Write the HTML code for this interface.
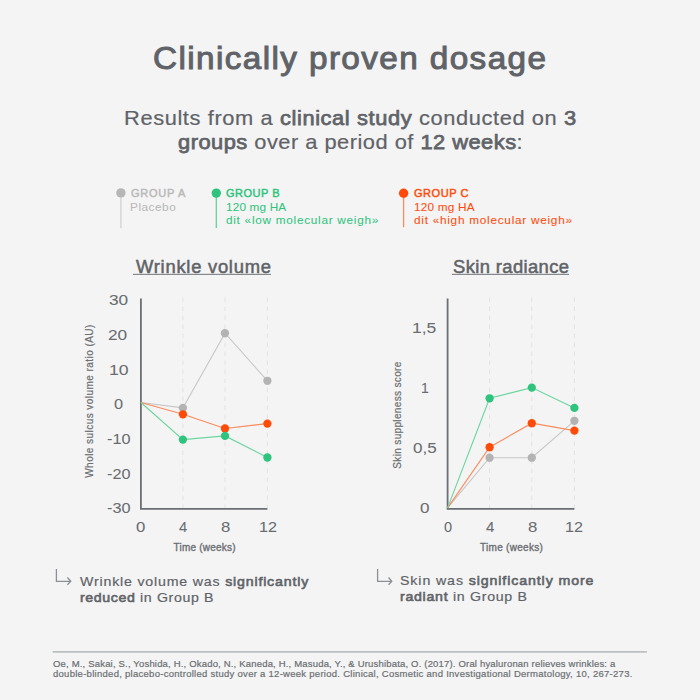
<!DOCTYPE html>
<html><head><meta charset="utf-8">
<style>
html,body{margin:0;padding:0;}
body{width:700px;height:700px;background:#f4f4f4;position:relative;overflow:hidden;font-family:"Liberation Sans",sans-serif;color:#5f6368;}
.t{position:absolute;white-space:nowrap;line-height:1;-webkit-text-stroke:0.2px currentColor;}
b{font-weight:normal;-webkit-text-stroke:0.8px currentColor;}
#sub1 b,#sub2 b{-webkit-text-stroke:0.75px currentColor;}
#n1a b,#n1b b,#n2a b,#n2b b{-webkit-text-stroke:0.6px currentColor;}
svg{position:absolute;left:0;top:0;}
</style></head><body>
<svg width="700" height="700">
  <!-- legend pins -->
  <rect x="120.25" y="193" width="1.3" height="35.2" fill="#d2d2d2"/>
  <circle cx="120.9" cy="192.9" r="4.7" fill="#b6b6b6"/>
  <rect x="215.65" y="193" width="1.3" height="35" fill="#62d39b"/>
  <circle cx="216.3" cy="193.1" r="4.7" fill="#2fc47e"/>
  <rect x="402.95" y="193" width="1.3" height="34.2" fill="#ff8a5c"/>
  <circle cx="403.6" cy="193.2" r="4.7" fill="#ff4b0a"/>

  <!-- left chart grid -->
  <g stroke="#e2e2e2" stroke-width="1" stroke-dasharray="4.5,4.5" fill="none">
    <line x1="182.9" y1="297.5" x2="182.9" y2="508"/>
    <line x1="225" y1="297.5" x2="225" y2="508"/>
    <line x1="267.4" y1="297.5" x2="267.4" y2="508"/>
    <line x1="489.6" y1="297.5" x2="489.6" y2="508"/>
    <line x1="531.8" y1="297.5" x2="531.8" y2="508"/>
    <line x1="574.4" y1="297.5" x2="574.4" y2="508"/>
  </g>
  <polyline points="140.9,298.4 140.9,508.8 267.4,508.8" fill="none" stroke="#6b6e72" stroke-width="1.8"/>
  <polyline points="447.6,298.4 447.6,508.8 574.4,508.8" fill="none" stroke="#6b6e72" stroke-width="1.8"/>

  <g fill="#6b6f73" stroke="#6b6f73" stroke-width="0.2" font-size="10" font-family="Liberation Sans">
    <text id="yl1" transform="translate(93,401) rotate(-90)" text-anchor="middle" letter-spacing="0.45">Whole sulcus volume ratio (AU)</text>
    <text id="yl2" transform="translate(401,415) rotate(-90)" text-anchor="middle" letter-spacing="0.35">Skin suppleness score</text>
  </g>

  <polyline points="140.9,402.5 182.9,407.9 225,333.2 267.4,380.8" fill="none" stroke="#c6c6c6" stroke-width="1.1"/>
  <polyline points="140.9,402.5 182.9,414.3 225,428.5 267.4,423.6" fill="none" stroke="#fb8a5c" stroke-width="1.1"/>
  <polyline points="140.9,402.5 182.9,439.6 225,435.9 267.4,457.5" fill="none" stroke="#6bd5a0" stroke-width="1.1"/>
  <g fill="#b3b3b3"><circle cx="182.9" cy="407.9" r="4.15"/><circle cx="224.93" cy="333.2" r="4.15"/><circle cx="267.4" cy="380.8" r="4.15"/></g>
  <g fill="#ff4b0a"><circle cx="182.9" cy="414.3" r="4.15"/><circle cx="225" cy="428.5" r="4.15"/><circle cx="267.4" cy="423.6" r="4.15"/></g>
  <g fill="#2fc47e"><circle cx="182.9" cy="439.6" r="4.15"/><circle cx="225" cy="435.9" r="4.15"/><circle cx="267.4" cy="457.5" r="4.15"/></g>

  <polyline points="447.6,507.9 489.6,457.7 531.8,457.7 574.4,420.8" fill="none" stroke="#c6c6c6" stroke-width="1.1"/>
  <polyline points="447.6,507.9 489.6,447.2 531.8,423.2 574.4,430.6" fill="none" stroke="#fb8a5c" stroke-width="1.1"/>
  <polyline points="447.6,507.9 489.6,398.3 531.8,387.6 574.4,407.9" fill="none" stroke="#6bd5a0" stroke-width="1.1"/>
  <g fill="#b3b3b3"><circle cx="489.6" cy="457.7" r="4.15"/><circle cx="531.8" cy="457.7" r="4.15"/><circle cx="574.4" cy="420.8" r="4.15"/></g>
  <g fill="#ff4b0a"><circle cx="489.6" cy="447.2" r="4.15"/><circle cx="531.8" cy="423.2" r="4.15"/><circle cx="574.4" cy="430.6" r="4.15"/></g>
  <g fill="#2fc47e"><circle cx="489.6" cy="398.3" r="4.15"/><circle cx="531.8" cy="387.6" r="4.15"/><circle cx="574.4" cy="407.9" r="4.15"/></g>

  <g fill="none" stroke="#8c8f93" stroke-width="1.3" stroke-linecap="butt" stroke-linejoin="miter">
    <path d="M56.4,569 V581.3 H70.6 M67.4,577.5 L70.8,581.3 L67.4,584.8"/>
    <path d="M377.6,569 V581.3 H391.6 M388.5,577.5 L391.8,581.3 L388.5,584.8"/>
  </g>
  <rect x="133" y="273.8" width="137.9" height="1.2" fill="#85898d"/>
  <rect x="452" y="273.8" width="117.1" height="1.2" fill="#85898d"/>
  <line x1="52.7" y1="651.9" x2="646.9" y2="651.9" stroke="#bdbfc1" stroke-width="1.7"/>
</svg>
<div class="t" id="title" style="left:153px;top:42.0px;font-size:32px;letter-spacing:1.348px;-webkit-text-stroke:1.0px currentColor;transform:scaleX(1.04);transform-origin:0 0;">Clinically proven dosage</div>
<div class="t" id="sub1" style="left:124px;top:106.51px;font-size:21px;letter-spacing:0.582px;transform:scaleX(1.04);transform-origin:0 0;">Results from a <b>clinical study</b> conducted on <b>3</b></div>
<div class="t" id="sub2" style="left:178px;top:130.71px;font-size:21px;letter-spacing:0.469px;transform:scaleX(1.04);transform-origin:0 0;"><b>groups</b> over a period of <b>12 weeks</b>:</div>
<div class="t" id="ga" style="left:131.0px;top:188.01px;font-size:11px;letter-spacing:0.733px;color:#b9b9b9;-webkit-text-stroke:0.45px currentColor;transform:scaleX(1.0);transform-origin:0 0;">GROUP A</div>
<div class="t" id="gap" style="left:130.0px;top:201.81px;font-size:11px;letter-spacing:0.5px;color:#b9b9b9;-webkit-text-stroke:0.05px currentColor;transform:scaleX(1.07);transform-origin:0 0;">Placebo</div>
<div class="t" id="gb" style="left:226px;top:187.81px;font-size:11px;letter-spacing:0.5px;color:#2fc47e;-webkit-text-stroke:0.45px currentColor;transform:scaleX(1.0);transform-origin:0 0;">GROUP B</div>
<div class="t" id="gb1" style="left:226px;top:201.91px;font-size:11px;letter-spacing:0.152px;color:#2fc47e;-webkit-text-stroke:0.05px currentColor;transform:scaleX(1.07);transform-origin:0 0;">120 mg HA</div>
<div class="t" id="gb2" style="left:226px;top:215.01px;font-size:11px;letter-spacing:0.682px;color:#2fc47e;-webkit-text-stroke:0.05px currentColor;transform:scaleX(1.07);transform-origin:0 0;">dit «low molecular weigh»</div>
<div class="t" id="gc" style="left:414.0px;top:187.81px;font-size:11px;letter-spacing:0.533px;color:#ff4b0a;-webkit-text-stroke:0.45px currentColor;transform:scaleX(1.0);transform-origin:0 0;">GROUP C</div>
<div class="t" id="gc1" style="left:414.0px;top:201.91px;font-size:11px;letter-spacing:0.2px;color:#ff4b0a;-webkit-text-stroke:0.05px currentColor;transform:scaleX(1.07);transform-origin:0 0;">120 mg HA</div>
<div class="t" id="gc2" style="left:414.0px;top:215.01px;font-size:11px;letter-spacing:0.696px;color:#ff4b0a;-webkit-text-stroke:0.05px currentColor;transform:scaleX(1.07);transform-origin:0 0;">dit «high molecular weigh»</div>
<div class="t" id="ct1" style="left:135.5px;top:258.6px;font-size:17.5px;letter-spacing:0.707px;-webkit-text-stroke:0.5px currentColor;transform:scaleX(1.05);transform-origin:0 0;">Wrinkle volume</div>
<div class="t" id="ct2" style="left:453.0px;top:258.6px;font-size:17.5px;letter-spacing:0.366px;-webkit-text-stroke:0.5px currentColor;transform:scaleX(1.05);transform-origin:0 0;">Skin radiance</div>
<div class="t" id="n1a" style="left:79.5px;top:575.4px;font-size:13.5px;letter-spacing:0.775px;transform:scaleX(1.05);transform-origin:0 0;">Wrinkle volume was <b>significantly</b></div>
<div class="t" id="n1b" style="left:79.5px;top:591.4px;font-size:13.5px;letter-spacing:0.588px;transform:scaleX(1.05);transform-origin:0 0;"><b>reduced</b> in Group B</div>
<div class="t" id="n2a" style="left:400.0px;top:574.0px;font-size:13.5px;letter-spacing:0.853px;transform:scaleX(1.05);transform-origin:0 0;">Skin was <b>significantly more</b></div>
<div class="t" id="n2b" style="left:400.0px;top:590.0px;font-size:13.5px;letter-spacing:0.671px;transform:scaleX(1.05);transform-origin:0 0;"><b>radiant</b> in Group B</div>
<div class="t" id="r1" style="left:53px;top:658.71px;font-size:9.5px;letter-spacing:0.181px;color:#6b6f73;">Oe, M., Sakai, S., Yoshida, H., Okado, N., Kaneda, H., Masuda, Y., &amp; Urushibata, O. (2017). Oral hyaluronan relieves wrinkles: a</div>
<div class="t" id="r2" style="left:53px;top:669.01px;font-size:9.5px;letter-spacing:0.276px;color:#6b6f73;">double-blinded, placebo-controlled study over a 12-week period. Clinical, Cosmetic and Investigational Dermatology, 10, 267-273.</div>
<div class="t" id="t30" style="left:109.0px;top:291.91px;font-size:15.5px;letter-spacing:0px;color:#686c70;-webkit-text-stroke:0.05px currentColor;transform:scaleX(1.1125);transform-origin:0 0;">30</div>
<div class="t" id="t20" style="left:108.0px;top:327.1px;font-size:15.5px;letter-spacing:0px;color:#686c70;-webkit-text-stroke:0.05px currentColor;transform:scaleX(1.1125);transform-origin:0 0;">20</div>
<div class="t" id="t10" style="left:108.5px;top:362.01px;font-size:15.5px;letter-spacing:0px;color:#686c70;-webkit-text-stroke:0.05px currentColor;transform:scaleX(1.1378);transform-origin:0 0;">10</div>
<div class="t" id="t0" style="left:114.0px;top:396.21px;font-size:15.5px;letter-spacing:0px;color:#686c70;-webkit-text-stroke:0.05px currentColor;transform:scaleX(1.0519);transform-origin:0 0;">0</div>
<div class="t" id="tm10" style="left:106.5px;top:431.01px;font-size:15.5px;letter-spacing:0px;color:#686c70;-webkit-text-stroke:0.05px currentColor;transform:scaleX(1.0477);transform-origin:0 0;">-10</div>
<div class="t" id="tm20" style="left:106.5px;top:465.91px;font-size:15.5px;letter-spacing:0px;color:#686c70;-webkit-text-stroke:0.05px currentColor;transform:scaleX(1.0477);transform-origin:0 0;">-20</div>
<div class="t" id="tm30" style="left:106.5px;top:499.6px;font-size:15.5px;letter-spacing:0px;color:#686c70;-webkit-text-stroke:0.05px currentColor;transform:scaleX(1.0477);transform-origin:0 0;">-30</div>
<div class="t" id="r15" style="left:412.0px;top:320.41px;font-size:15.5px;letter-spacing:0px;color:#686c70;-webkit-text-stroke:0.05px currentColor;transform:scaleX(1.1294);transform-origin:0 0;">1,5</div>
<div class="t" id="ry1" style="left:420.5px;top:380.1px;font-size:15.5px;letter-spacing:0px;color:#686c70;-webkit-text-stroke:0.05px currentColor;transform:scaleX(0.9085);transform-origin:0 0;">1</div>
<div class="t" id="r05" style="left:412.5px;top:439.51px;font-size:15.5px;letter-spacing:0px;color:#686c70;-webkit-text-stroke:0.05px currentColor;transform:scaleX(1.1);transform-origin:0 0;">0,5</div>
<div class="t" id="r0" style="left:420px;top:499.51px;font-size:15.5px;letter-spacing:0px;color:#686c70;-webkit-text-stroke:0.05px currentColor;transform:scaleX(1.1);transform-origin:0 0;">0</div>
<div class="t" id="x0" style="left:136.0px;top:518.71px;font-size:15.5px;letter-spacing:0px;color:#686c70;-webkit-text-stroke:0.05px currentColor;transform:scaleX(1.0805);transform-origin:0 0;">0</div>
<div class="t" id="x4" style="left:178.5px;top:518.71px;font-size:15.5px;letter-spacing:0px;color:#686c70;-webkit-text-stroke:0.05px currentColor;transform:scaleX(0.9508);transform-origin:0 0;">4</div>
<div class="t" id="x8" style="left:220.5px;top:518.71px;font-size:15.5px;letter-spacing:0px;color:#686c70;-webkit-text-stroke:0.05px currentColor;transform:scaleX(1.0805);transform-origin:0 0;">8</div>
<div class="t" id="x12" style="left:258.5px;top:518.71px;font-size:15.5px;letter-spacing:0px;color:#686c70;-webkit-text-stroke:0.05px currentColor;transform:scaleX(1.0407);transform-origin:0 0;">12</div>
<div class="t" id="xr0" style="left:443.5px;top:518.71px;font-size:15.5px;letter-spacing:0px;color:#686c70;-webkit-text-stroke:0.05px currentColor;transform:scaleX(0.9391);transform-origin:0 0;">0</div>
<div class="t" id="xr4" style="left:485.5px;top:518.71px;font-size:15.5px;letter-spacing:0px;color:#686c70;-webkit-text-stroke:0.05px currentColor;transform:scaleX(0.9725);transform-origin:0 0;">4</div>
<div class="t" id="xr8" style="left:528.0px;top:518.71px;font-size:15.5px;letter-spacing:0px;color:#686c70;-webkit-text-stroke:0.05px currentColor;transform:scaleX(1.0805);transform-origin:0 0;">8</div>
<div class="t" id="xr12" style="left:564.5px;top:518.71px;font-size:15.5px;letter-spacing:0px;color:#686c70;-webkit-text-stroke:0.05px currentColor;transform:scaleX(1.0389);transform-origin:0 0;">12</div>
<div class="t" id="tw1" style="left:173.5px;top:542.71px;font-size:10px;letter-spacing:0.218px;color:#6b6f73;-webkit-text-stroke:0.35px currentColor;">Time (weeks)</div>
<div class="t" id="tw2" style="left:480.0px;top:542.71px;font-size:10px;letter-spacing:0.292px;color:#6b6f73;-webkit-text-stroke:0.35px currentColor;">Time (weeks)</div>
</body></html>
